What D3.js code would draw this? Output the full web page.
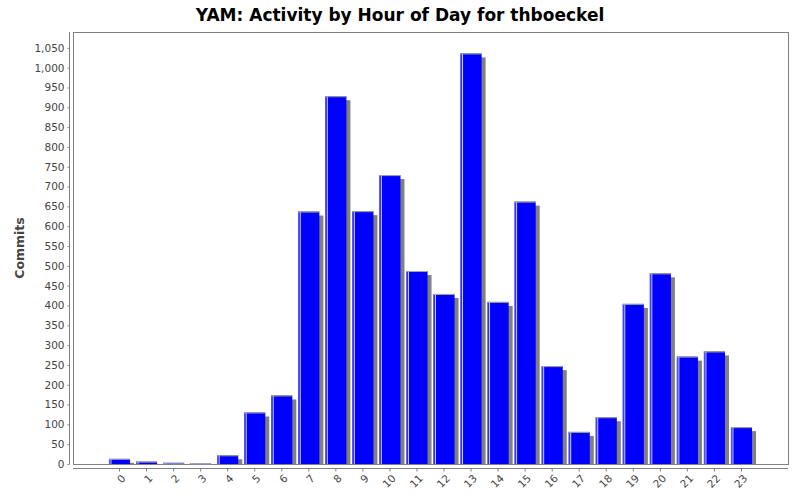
<html>
<head>
<style>
  body { margin: 0; background: #fff; }
  text { font-family: "DejaVu Sans", sans-serif; }
</style>
</head>
<body>
<script src="https://d3js.org/d3.v7.min.js"></script>
<script>
  // data
  var hours = ['0','1','2','3','4','5','6','7','8','9','10','11','12','13','14','15','16','17','18','19','20','21','22','23'];
  var commits = [13, 6, 3, 1, 22, 130, 173, 637, 928, 638, 729, 487, 429, 1036, 409, 662, 247, 81, 118, 404, 481, 271, 284, 93];
  var yTicks = [0,50,100,150,200,250,300,350,400,450,500,550,600,650,700,750,800,850,900,950,1000,1050];

  var width = 800, height = 500;
  var pLeft = 73, pRight = 788, pTop = 32, pBottom = 464;

  var svg = d3.select('body').append('svg')
      .attr('width', width)
      .attr('height', height);

  // scales
  var x = d3.scaleBand().domain(hours).range([pLeft, pRight]).paddingInner(0.22).paddingOuter(1.33);
  var y = d3.scaleLinear().domain([0, 1090]).range([pBottom, pTop]);

  // title
  svg.append('text')
      .attr('x', 400).attr('y', 21)
      .attr('text-anchor', 'middle')
      .attr('font-size', 17).attr('font-weight', 'bold')
      .attr('fill', '#000')
      .text('YAM: Activity by Hour of Day for thboeckel');

  // plot border
  svg.append('rect')
      .attr('x', pLeft + 0.5).attr('y', pTop + 0.5)
      .attr('width', pRight - pLeft).attr('height', pBottom - pTop)
      .attr('fill', '#fff').attr('stroke', '#808080');

  svg.append('clipPath').attr('id', 'plot')
      .append('rect').attr('x', pLeft + 1).attr('y', pTop + 1)
      .attr('width', pRight - pLeft - 1).attr('height', pBottom - pTop - 0.5);

  var bars = svg.append('g').attr('clip-path', 'url(#plot)');
  var bw = x.bandwidth();

  //影子
  bars.selectAll('rect.shadow')
      .data(commits).enter()
      .append('rect').attr('class', 'shadow')
      .attr('x', (d, i) => x(hours[i]) + 4)
      .attr('y', d => y(d) + 4)
      .attr('width', bw)
      .attr('height', d => pBottom - y(d))
      .attr('fill', '#808080');

  //柱子
  bars.selectAll('rect.bar')
      .data(commits).enter()
      .append('rect').attr('class', 'bar')
      .attr('x', (d, i) => x(hours[i]))
      .attr('y', d => y(d))
      .attr('width', bw)
      .attr('height', d => pBottom - y(d))
      .attr('fill', '#0000ff');

  // highlight stripes
  bars.selectAll('rect.hl1')
      .data(commits).enter()
      .append('rect')
      .attr('x', (d, i) => x(hours[i]))
      .attr('y', d => y(d))
      .attr('width', 1)
      .attr('height', d => pBottom - y(d))
      .attr('fill', '#5555ff');
  bars.selectAll('rect.hl2')
      .data(commits).enter()
      .append('rect')
      .attr('x', (d, i) => x(hours[i]) + 1.5)
      .attr('y', d => y(d))
      .attr('width', 1)
      .attr('height', d => pBottom - y(d))
      .attr('fill', '#d0d0ff');
  bars.selectAll('rect.hl3')
      .data(commits).enter()
      .append('rect')
      .attr('x', (d, i) => x(hours[i]))
      .attr('y', d => y(d))
      .attr('width', bw)
      .attr('height', 1)
      .attr('fill', '#9999ff');

  // Y axis
  var yAxis = svg.append('g')
      .attr('transform', 'translate(69.5,0)')
      .call(d3.axisLeft(y).tickValues(yTicks).tickSize(2).tickPadding(3).tickFormat(d3.format(',')));
  yAxis.select('.domain').attr('stroke', '#808080').attr('d', 'M0,' + pTop + 'V' + pBottom);
  yAxis.selectAll('.tick line').attr('stroke', '#808080');
  yAxis.selectAll('text').attr('font-size', 10.5).attr('fill', '#444').style('font-family', '"DejaVu Sans", sans-serif');

  // X axis
  var xAxis = svg.append('g')
      .attr('transform', 'translate(0,468.5)')
      .call(d3.axisBottom(x).tickSize(3).tickPadding(4));
  xAxis.select('.domain').attr('stroke', '#808080').attr('d', 'M' + pLeft + ',0H' + pRight);
  xAxis.selectAll('.tick line').attr('stroke', '#808080');
  xAxis.selectAll('text')
      .attr('font-size', 10.5).attr('fill', '#444')
      .style('font-family', '"DejaVu Sans", sans-serif')
      .attr('text-anchor', 'end')
      .attr('dy', '0.35em')
      .attr('transform', 'translate(4,8) rotate(-45)')
      .attr('y', 0).attr('x', 0);

  // Y label
  svg.append('text')
      .attr('transform', 'translate(24,248) rotate(-90)')
      .attr('text-anchor', 'middle')
      .attr('font-size', 12.5).attr('font-weight', 'bold')
      .attr('fill', '#444')
      .text('Commits');
</script>
</body>
</html>
